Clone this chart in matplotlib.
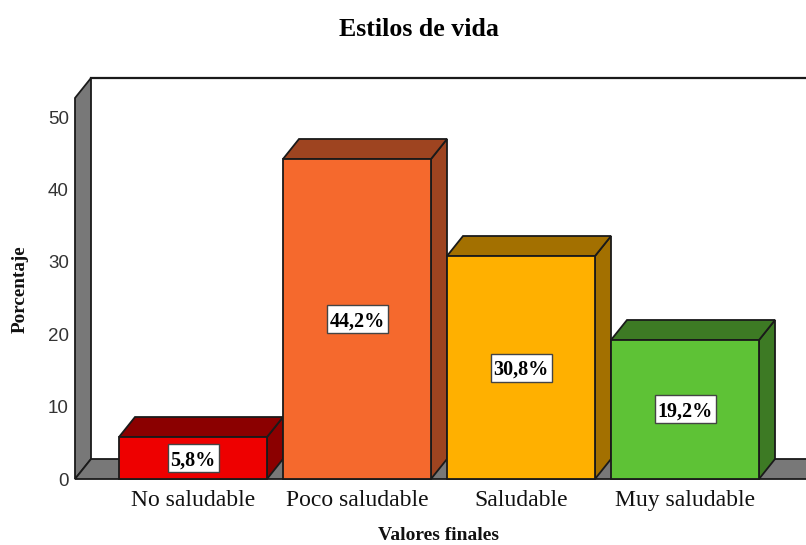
import matplotlib
matplotlib.use("Agg")
import matplotlib.pyplot as plt
from matplotlib.patches import Polygon, Rectangle

categories = ["No saludable", "Poco saludable", "Saludable", "Muy saludable"]
values = [5.8, 44.2, 30.8, 19.2]
labels = ["5,8%", "44,2%", "30,8%", "19,2%"]
yticks = [0, 10, 20, 30, 40, 50]
front_colors = ["#EE0000", "#F5692D", "#FFB000", "#5EC236"]
top_colors = ["#8B0000", "#9E4420", "#A37000", "#3D7A24"]

W, H = 806, 545
serif = "Liberation Serif"
edge = "#1a1a1a"

fig = plt.figure(figsize=(W / 100, H / 100), dpi=100)
# axes box in pixels: front plane of the 3d frame
ax = fig.add_axes([75 / W, (H - 479) / H, (W - 75) / W, (479 - 98) / H])
ax.set_ylim(0, 381 / 7.24)
ax.set_xlim((75 - 193) / 164, (806 - 193) / 164)
ax.patch.set_visible(False)
for s in ax.spines.values():
    s.set_visible(False)

# depth of the 3d effect in data units
dx = 16 / 164
dy = 20 / 7.24
xl, xr = ax.get_xlim()
ytop = ax.get_ylim()[1]
gray = "#787878"


def poly(pts, fc, z=1, lw=1.3):
    ax.add_patch(Polygon(pts, closed=True, facecolor=fc, edgecolor=edge, linewidth=lw,
                         clip_on=False, zorder=z, joinstyle="miter"))


# walls
poly([(xl, 0), (xl + dx, dy), (xl + dx, ytop + dy), (xl, ytop)], gray)
poly([(xl, 0), (xl + dx, dy), (xr + 1, dy), (xr + 1, 0)], gray)
ax.plot([xl + dx, xr], [ytop + dy, ytop + dy], color=edge, lw=1.6, clip_on=False, zorder=1)

# bars
bw = 148 / 164
for i, v in enumerate(values):
    a, b = i - bw / 2, i + bw / 2
    z = 2 + i
    poly([(b, 0), (b + dx, dy), (b + dx, v + dy), (b, v)], top_colors[i], z)
    poly([(a, v), (a + dx, v + dy), (b + dx, v + dy), (b, v)], top_colors[i], z)
    poly([(a, 0), (b, 0), (b, v), (a, v)], front_colors[i], z)
    # label box is taller than the text, so it is its own patch
    box_w = (51 if len(labels[i]) == 4 else 61) / 164
    box_h = 28 / 7.24
    ax.add_patch(Rectangle((i - box_w / 2, v / 2 - box_h / 2), box_w, box_h, facecolor="white",
                           edgecolor="#444444", linewidth=1, zorder=10))
    ax.text(i, v / 2, labels[i], ha="center", va="center_baseline", family=serif, weight="bold",
            fontsize=14.5, color="black", zorder=11)

ax.set_xticks(range(len(categories)), categories, family=serif, fontsize=17, color="#111111")
ax.set_yticks(yticks, [str(t) for t in yticks], family="Liberation Sans", fontsize=13.5, color="#333333")
ax.tick_params(axis="both", length=0)
ax.tick_params(axis="x", pad=8)
ax.tick_params(axis="y", pad=4.5)

fig.text(419 / W, 1 - 29 / H, "Estilos de vida", ha="center", va="center", family=serif,
         weight="bold", fontsize=18.6, color="black")
fig.text(439 / W, 1 - 535.5 / H, "Valores finales", ha="center", va="center", family=serif,
         weight="bold", fontsize=14, color="#111111")
fig.text(20 / W, 1 - 289 / H, "Porcentaje", ha="center", va="center", rotation=90, family=serif,
         weight="bold", fontsize=13.8, color="#111111")

fig.savefig("out.png", dpi=100)
